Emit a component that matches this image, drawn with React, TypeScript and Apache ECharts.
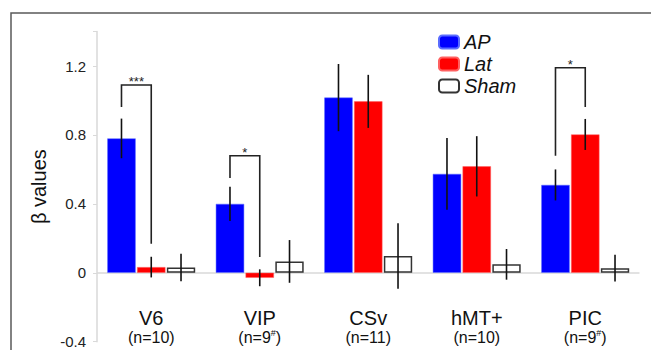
import React, { useEffect, useRef } from "react";
import * as echarts from "echarts";

const categories = ["V6", "VIP", "CSv", "hMT+", "PIC"];
const nCounts = [10, 9, 11, 10, 9];
const nMarks = ["", "#", "", "", "#"];

const apValues = [0.78, 0.4, 1.017, 0.574, 0.51];
const apErr = [0.115, 0.1, 0.195, 0.208, 0.09];
const latValues = [0.033, -0.029, 0.995, 0.618, 0.803];
const latErr = [0.06, 0.049, 0.154, 0.175, 0.09];
const shamValues = [0.031, 0.066, 0.097, 0.049, 0.027];
const shamErr = [0.08, 0.124, 0.19, 0.089, 0.078];

const bracketCats = [0, 1, 4];
const bracketTop = [1.09, 0.679, 1.19];
const bracketLeftEnd = [0.962, 0.55, 0.68];
const bracketRightEnd = [0.169, 0.092, 0.962];
const bracketLabels = ["***", "*", "*"];

const FONT = "'Liberation Sans', Arial, sans-serif";
const CAT_GAP = 0.19;
const BAR_GAP = 0.05;
const N_BARS = 3;

function barOffset(bandWidth: number, idx: number) {
  const usable = bandWidth * (1 - CAT_GAP);
  const bw = usable / (N_BARS + (N_BARS - 1) * BAR_GAP);
  const gap = bw * BAR_GAP;
  return -usable / 2 + bw / 2 + idx * (bw + gap);
}

export default function App() {
  const ref = useRef<HTMLDivElement>(null);
  useEffect(() => {
    if (!ref.current) return;
    const chart = echarts.init(ref.current, null, { renderer: "svg" });

    const errData: number[][] = [];
    [apValues, latValues, shamValues].forEach((vals, s) => {
      const errs = [apErr, latErr, shamErr][s];
      vals.forEach((v, i) => errData.push([i, v, errs[i], s]));
    });
    const bracketData = bracketCats.map((c, i) => [
      c,
      bracketTop[i],
      bracketLeftEnd[i],
      bracketRightEnd[i],
      i,
    ]);

    chart.setOption({
      animation: false,
      backgroundColor: "#ffffff",
      textStyle: { fontFamily: FONT },
      graphic: [
        {
          type: "rect",
          shape: { x: 11, y: 13, width: 720, height: 420 },
          style: { fill: "none", stroke: "#5a5a5a", lineWidth: 1.5 },
          silent: true,
        },
      ],
      legend: {
        orient: "vertical",
        left: 438,
        top: 32,
        padding: 0,
        itemWidth: 20,
        itemHeight: 13,
        itemGap: 2,
        data: ["AP", "Lat", "Sham"],
        textStyle: {
          fontSize: 20,
          fontStyle: "italic",
          color: "#111",
          fontFamily: FONT,
        },
      },
      grid: {
        left: 97,
        right: 11.5,
        top: 31.6,
        bottom: 8.3,
        containLabel: false,
        outerBoundsMode: "none",
      },
      xAxis: {
        type: "category",
        data: categories,
        position: "bottom",
        axisLine: { show: false, onZero: false },
        axisTick: { show: false },
        axisLabel: {
          interval: 0,
          margin: -33.7,
          formatter: (v: string, i: number) =>
            `{name|${v}}\n{n|(n=${nCounts[i]}}` +
            (nMarks[i] ? `{sup|${nMarks[i]}}` : "") +
            `{n|)}`,
          rich: {
            name: { fontSize: 20, lineHeight: 20, color: "#111", fontFamily: FONT },
            n: { fontSize: 16, lineHeight: 18, color: "#111", fontFamily: FONT },
            sup: {
              fontSize: 9,
              lineHeight: 18,
              verticalAlign: "top",
              color: "#111",
              fontFamily: FONT,
            },
          },
        },
      },
      yAxis: {
        type: "value",
        min: -0.4,
        max: 1.4,
        interval: 0.4,
        name: "β values",
        nameLocation: "middle",
        nameGap: 44,
        nameTextStyle: { fontSize: 20, color: "#111", fontFamily: FONT },
        axisLine: { show: true, lineStyle: { color: "#d9d9d9", width: 1.5 } },
        axisTick: { show: true, length: 4, lineStyle: { color: "#d9d9d9" } },
        splitLine: { show: false },
        axisLabel: {
          margin: 11,
          fontSize: 15,
          color: "#222",
          fontFamily: FONT,
          formatter: (v: number) => {
            if (v > 1.3) return "";
            if (Math.abs(v) < 1e-9) return "0";
            return v.toFixed(1);
          },
        },
      },
      series: [
        {
          name: "AP",
          type: "bar",
          data: apValues,
          barCategoryGap: "19%",
          barGap: "5%",
          itemStyle: { color: "#0000ff", borderColor: "#5a6cff", borderWidth: 0.5 },
          markLine: {
            silent: true,
            symbol: "none",
            z: 1,
            label: { show: false },
            lineStyle: { color: "#d9d9d9", width: 1.5, type: "solid" },
            data: [{ yAxis: 0 }],
          },
        },
        {
          name: "Lat",
          type: "bar",
          data: latValues,
          barCategoryGap: "19%",
          barGap: "5%",
          itemStyle: { color: "#ff0000", borderColor: "#ff6060", borderWidth: 0.5 },
        },
        {
          name: "Sham",
          type: "bar",
          data: shamValues,
          barCategoryGap: "19%",
          barGap: "5%",
          itemStyle: { color: "#ffffff", borderColor: "#333333", borderWidth: 1.5 },
        },
        {
          name: "err",
          type: "custom",
          z: 10,
          silent: true,
          data: errData,
          renderItem: (params: any, api: any) => {
            const cat = api.value(0);
            const v = api.value(1);
            const e = api.value(2);
            const s = api.value(3);
            const band = api.size([1, 0])[0];
            const off = barOffset(band, s);
            const p1 = api.coord([cat, v + e]);
            const p2 = api.coord([cat, v - e]);
            return {
              type: "line",
              shape: { x1: p1[0] + off, y1: p1[1], x2: p2[0] + off, y2: p2[1] },
              style: { stroke: "#111", lineWidth: 1.6 },
            };
          },
        },
        {
          name: "sig",
          type: "custom",
          z: 10,
          silent: true,
          data: bracketData,
          renderItem: (params: any, api: any) => {
            const cat = api.value(0);
            const top = api.value(1);
            const le = api.value(2);
            const re = api.value(3);
            const idx = api.value(4);
            const band = api.size([1, 0])[0];
            const o0 = barOffset(band, 0);
            const o1 = barOffset(band, 1);
            const pt = api.coord([cat, top]);
            const pl = api.coord([cat, le]);
            const pr = api.coord([cat, re]);
            const xl = pt[0] + o0;
            const xr = pt[0] + o1;
            return {
              type: "group",
              children: [
                {
                  type: "polyline",
                  shape: {
                    points: [
                      [xl, pl[1]],
                      [xl, pt[1]],
                      [xr, pt[1]],
                      [xr, pr[1]],
                    ],
                  },
                  style: { stroke: "#222", lineWidth: 1.6, fill: "none" },
                },
                {
                  type: "text",
                  style: {
                    text: bracketLabels[idx],
                    x: (xl + xr) / 2,
                    y: pt[1] + 3,
                    align: "center",
                    verticalAlign: "bottom",
                    fontSize: 13,
                    fontFamily: FONT,
                    fill: "#222",
                  },
                },
              ],
            };
          },
        },
      ],
    });
    return () => chart.dispose();
  }, []);
  return (
    <div
      ref={ref}
      style={{
        position: "fixed",
        left: 0,
        top: 0,
        width: 651,
        height: 350,
        background: "#fff",
      }}
    />
  );
}
